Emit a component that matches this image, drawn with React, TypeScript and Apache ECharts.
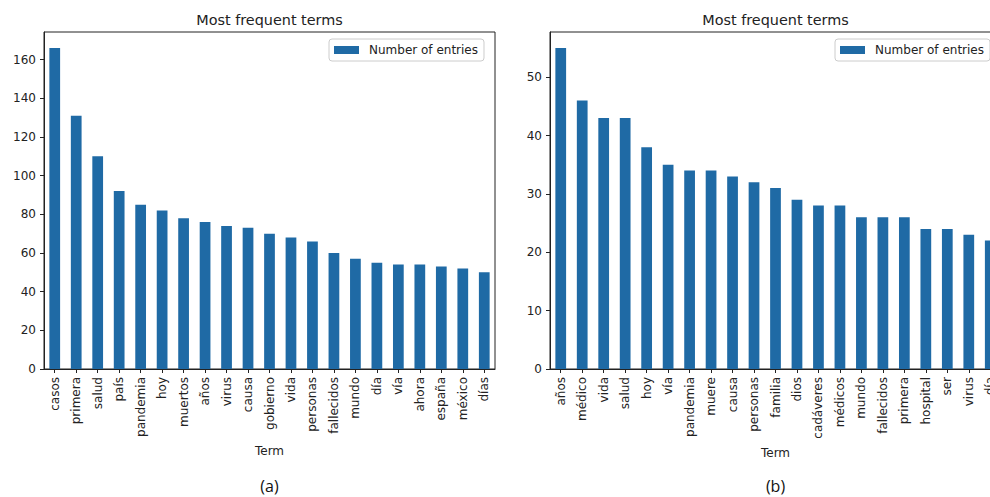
import React, { useEffect, useRef } from "react";
import * as echarts from "echarts";

// Panel (a): most frequent terms and their counts
const termsA = [
  "casos", "primera", "salud", "país", "pandemia", "hoy", "muertos", "años",
  "virus", "causa", "gobierno", "vida", "personas", "fallecidos", "mundo",
  "día", "vía", "ahora", "españa", "méxico", "días",
];
const countsA = [166, 131, 110, 92, 85, 82, 78, 76, 74, 73, 70, 68, 66, 60, 57, 55, 54, 54, 53, 52, 50];
const ticksA = [0, 20, 40, 60, 80, 100, 120, 140, 160];

// Panel (b)
const termsB = [
  "años", "médico", "vida", "salud", "hoy", "vía", "pandemia", "muere",
  "causa", "personas", "familia", "dios", "cadáveres", "médicos", "mundo",
  "fallecidos", "primera", "hospital", "ser", "virus", "día",
];
const countsB = [55, 46, 43, 43, 38, 35, 34, 34, 33, 32, 31, 29, 28, 28, 26, 26, 26, 24, 24, 23, 22];
const ticksB = [0, 10, 20, 30, 40, 50];

const seriesName = "Number of entries";
const chartTitle = "Most frequent terms";
const axisTitle = "Term";
const captions = ["(a)", "(b)"];

const FONT = "DejaVu Sans";
const INK = "#222";
const BAR = "#1f6aa5";

export default function App() {
  const ref = useRef<HTMLDivElement>(null);

  useEffect(() => {
    if (!ref.current) return;
    const chart = echarts.init(ref.current, null, { renderer: "svg" });

    const panels = [
      { terms: termsA, counts: countsA, ticks: ticksA, left: 44, width: 451, legendLeft: 329, nameGap: 76 },
      { terms: termsB, counts: countsB, ticks: ticksB, left: 550, width: 451, legendLeft: 835, nameGap: 78 },
    ];

    const grids = panels.map((p) => ({
      left: p.left,
      top: 32,
      width: p.width,
      height: 337,
      outerBoundsMode: "none",
      containLabel: false,
      show: true,
      borderColor: INK,
      borderWidth: 1,
      backgroundColor: "transparent",
    }));

    const xAxes = panels.map((p, i) => ({
      type: "category",
      gridIndex: i,
      data: p.terms,
      name: axisTitle,
      nameLocation: "middle",
      nameGap: p.nameGap,
      nameTextStyle: { color: INK, fontFamily: FONT, fontSize: 12 },
      axisLine: { show: true, lineStyle: { color: INK, width: 1 } },
      axisTick: { show: true, alignWithLabel: true, length: 4, lineStyle: { color: INK } },
      axisLabel: {
        interval: 0,
        rotate: 90,
        margin: 8,
        color: INK,
        fontFamily: FONT,
        fontSize: 12,
      },
      splitLine: { show: false },
    }));

    const yAxes = panels.map((p, i) => {
      const peak = Math.max(...p.counts);
      return {
        type: "value",
        gridIndex: i,
        min: 0,
        max: peak * 1.05,
        axisLine: { show: true, lineStyle: { color: INK, width: 1 } },
        axisTick: { show: true, length: 4, lineStyle: { color: INK }, customValues: p.ticks },
        axisLabel: {
          color: INK,
          fontFamily: FONT,
          fontSize: 12,
          margin: 8,
          customValues: p.ticks,
        },
        splitLine: { show: false },
      };
    });

    const series = panels.map((p, i) => ({
      type: "bar",
      name: seriesName,
      xAxisIndex: i,
      yAxisIndex: i,
      data: p.counts,
      barWidth: "50%",
      itemStyle: { color: BAR },
    }));

    const legends = panels.map((p) => ({
      data: [seriesName],
      left: p.legendLeft,
      top: 39,
      orient: "horizontal",
      selectedMode: false,
      backgroundColor: "#fff",
      borderColor: "#ccc",
      borderWidth: 1,
      borderRadius: 3,
      padding: [5, 6, 5, 5],
      itemWidth: 25,
      itemHeight: 8,
      icon: "rect",
      textStyle: {
        color: INK,
        fontFamily: FONT,
        fontSize: 12,
        padding: [0, 0, 0, 5],
      },
    }));

    const centers = panels.map((p) => p.left + p.width / 2);

    const graphic = [
      ...centers.map((cx) => ({
        type: "text",
        x: cx,
        y: 20,
        style: {
          text: chartTitle,
          fill: INK,
          fontFamily: FONT,
          fontSize: 14.4,
          align: "center",
          verticalAlign: "middle",
        },
      })),
      ...centers.map((cx, i) => ({
        type: "text",
        x: cx,
        y: 486,
        style: {
          text: captions[i],
          fill: "#111",
          fontFamily: "Open Sans",
          fontSize: 16,
          align: "center",
          verticalAlign: "middle",
        },
      })),
    ];

    chart.setOption({
      animation: false,
      backgroundColor: "#fff",
      grid: grids,
      xAxis: xAxes,
      yAxis: yAxes,
      legend: legends,
      series,
      graphic,
    });

    return () => chart.dispose();
  }, []);

  return (
    <div
      ref={ref}
      style={{ position: "fixed", left: 0, top: 0, width: 990, height: 497 }}
    />
  );
}
